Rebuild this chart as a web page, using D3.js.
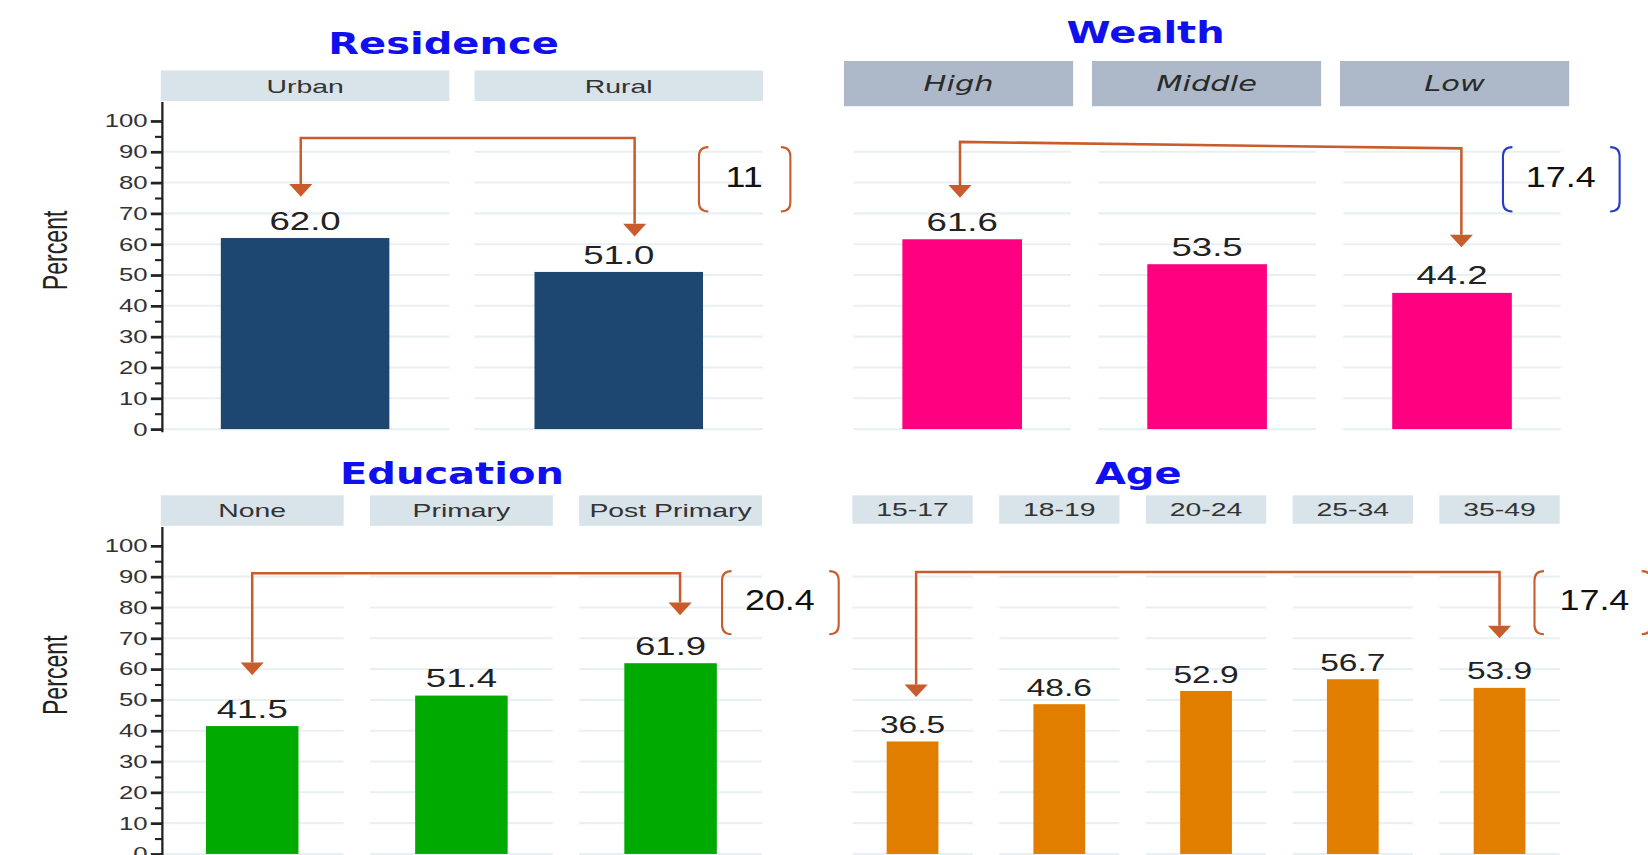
<!DOCTYPE html>
<html>
<head>
<meta charset="utf-8">
<script src="https://cdn.jsdelivr.net/npm/d3@7"></script>
<style>
  body { margin: 0; background: #fff; overflow: hidden; }
  svg { display: block; }
</style>
</head>
<body>
<svg id="chart"></svg>
<script>
// values
const residenceCats = ["Urban", "Rural"];
const residenceVals = [62.0, 51.0];

const wealthCats = ["High", "Middle", "Low"];
const wealthVals = [61.6, 53.5, 44.2];

const educationCats = ["None", "Primary", "Post Primary"];
const educationVals = [41.5, 51.4, 61.9];

const ageCats = ["15-17", "18-19", "20-24", "25-34", "35-49"];
const ageVals = [36.5, 48.6, 52.9, 56.7, 53.9];

// gap between the two arrowed groups, as printed in the brackets
const gapLabels = ["11", "17.4", "20.4", "17.4"];

const majorTicks = d3.range(0, 101, 10);
const minorTicks = d3.range(5, 100, 10);
const gridTicks = d3.range(0, 91, 10);

const sans = "'Liberation Sans', Arial, sans-serif";
const titleFont = "'DejaVu Sans', Verdana, sans-serif";
const arrowColor = "#c85c2c";

// the picture was measured in a 1568x813 frame; the viewBox stretches it to the window
const W = 1568, H = 813;
const svg = d3.select("#chart")
    .attr("width", 1648)
    .attr("height", 855)
    .attr("viewBox", `0 0 ${W} ${H}`)
    .attr("preserveAspectRatio", "none");

// layout of every facet group (positions only, values come from the arrays above)
const panels = [
    {
        title: "Residence", titleX: 422, titleY: 51,
        cats: residenceCats, vals: residenceVals, color: "#1d4670",
        x0: 153, x1: 726, pad: 0.08, barFrac: 0.584, base: 408,
        strip: {x0: 153, x1: 726, pad: 0.08, y: 67, h: 29, fill: "#d8e3ea", italic: false},
        axis: true, valueSize: 24,
        arrow: {from: "Urban", to: "Rural", dxL: -0.015, dxR: 0.055, topL: 94.5, topR: 94.5, tipL: 75.4, tipR: 62.5},
        bracket: {xl: 665, xr: 752, top: 91.5, bot: 70.6, color: arrowColor, textX: 708, label: gapLabels[0]}
    },
    {
        title: "Wealth", titleX: 1090, titleY: 41,
        cats: wealthCats, vals: wealthVals, color: "#fe0080",
        x0: 812, x1: 1485, pad: 0.112, barFrac: 0.55, base: 408,
        strip: {x0: 803, x1: 1493, pad: 0.076, y: 58, h: 43, fill: "#adb8c9", italic: true},
        axis: false, valueSize: 24,
        arrow: {from: "High", to: "Low", dxL: -0.01, dxR: 0.043, topL: 93.2, topR: 91.1, tipL: 75.1, tipR: 59.0},
        bracket: {xl: 1430, xr: 1541, top: 91.5, bot: 70.6, color: "#2a3cc4", textX: 1485, label: gapLabels[1]}
    },
    {
        title: "Education", titleX: 430, titleY: 460,
        cats: educationCats, vals: educationVals, color: "#00aa00",
        x0: 153, x1: 725, pad: 0.126, barFrac: 0.506, base: 812,
        strip: {x0: 153, x1: 725, pad: 0.126, y: 471, h: 29, fill: "#d8e3ea", italic: false},
        axis: true, valueSize: 24,
        arrow: {from: "None", to: "Post Primary", dxL: 0, dxR: 0.052, topL: 91.1, topR: 91.1, tipL: 58.0, tipR: 77.5},
        bracket: {xl: 687, xr: 798, top: 91.8, bot: 71.3, color: arrowColor, textX: 742, label: gapLabels[2]}
    },
    {
        title: "Age", titleX: 1083, titleY: 460,
        cats: ageCats, vals: ageVals, color: "#e17e00",
        x0: 811, x1: 1484, pad: 0.18, barFrac: 0.43, base: 812,
        strip: {x0: 811, x1: 1484, pad: 0.18, y: 471, h: 27, fill: "#d8e3ea", italic: false},
        axis: false, valueSize: 22,
        arrow: {from: "15-17", to: "35-49", dxL: 0.03, dxR: 0, topL: 91.5, topR: 91.5, tipL: 50.9, tipR: 70.0},
        bracket: {xl: 1460, xr: 1571, top: 91.8, bot: 71.3, color: arrowColor, textX: 1517, label: gapLabels[3]}
    }
];

// text squeezed into the stretched look of the original
function stretchText(g, x, y, txt, o) {
    return g.append("text")
        .attr("transform", `translate(${x},${y}) scale(${o.sx || 1},1)`)
        .attr("text-anchor", o.anchor || "middle")
        .attr("dy", o.dy || 0)
        .style("font-family", o.font || sans)
        .style("font-size", o.size + "px")
        .style("font-weight", o.weight || "normal")
        .style("font-style", o.style || "normal")
        .attr("fill", o.fill || "#222")
        .text(txt);
}

function bracketPath(x, yTop, yBot, dir) {
    const r = 9 * dir;
    return `M${x + r},${yTop} Q${x},${yTop} ${x},${yTop + 9} L${x},${yBot - 9} Q${x},${yBot} ${x + r},${yBot}`;
}

panels.forEach(function (p) {
    const g = svg.append("g");

    const y = d3.scaleLinear().domain([0, 100]).range([p.base, p.base - 293]);
    const x = d3.scaleBand().domain(p.cats).range([p.x0, p.x1]).paddingInner(p.pad).paddingOuter(0);
    const xs = d3.scaleBand().domain(p.cats).range([p.strip.x0, p.strip.x1]).paddingInner(p.strip.pad).paddingOuter(0);

    // title
    stretchText(g, p.titleX, p.titleY, p.title, {
        size: 28, sx: 1.36, font: titleFont, weight: "bold", fill: "#1010ee"
    });

    // facet strips
    g.selectAll("rect.strip").data(p.cats).join("rect")
        .attr("class", "strip")
        .attr("x", d => xs(d))
        .attr("y", p.strip.y)
        .attr("width", xs.bandwidth())
        .attr("height", p.strip.h)
        .attr("fill", p.strip.fill);

    p.cats.forEach(function (c) {
        if (p.strip.italic) {
            stretchText(g, xs(c) + xs.bandwidth() / 2, p.strip.y + p.strip.h / 2, c, {
                size: 20, sx: 1.45, font: titleFont, style: "italic", dy: "0.36em", fill: "#2a2a2a"
            });
        } else {
            stretchText(g, xs(c) + xs.bandwidth() / 2, p.strip.y + p.strip.h / 2, c, {
                size: 18, sx: 1.5, dy: "0.36em", fill: "#333"
            });
        }
    });

    // light grid, one block per facet
    p.cats.forEach(function (c) {
        g.append("g").selectAll("line").data(gridTicks).join("line")
            .attr("x1", x(c)).attr("x2", x(c) + x.bandwidth())
            .attr("y1", d => y(d)).attr("y2", d => y(d))
            .attr("stroke", "#e8f0f3")
            .attr("stroke-width", 2);
    });

    // bars
    const bw = x.bandwidth() * p.barFrac;
    g.selectAll("rect.bar").data(p.vals).join("rect")
        .attr("class", "bar")
        .attr("x", (d, i) => x(p.cats[i]) + (x.bandwidth() - bw) / 2)
        .attr("y", d => y(d))
        .attr("width", bw)
        .attr("height", d => y(0) - y(d))
        .attr("fill", p.color);

    p.vals.forEach(function (v, i) {
        stretchText(g, x(p.cats[i]) + x.bandwidth() / 2, y(v) - 8, v.toFixed(1), {
            size: p.valueSize, sx: 1.45, fill: "#222"
        });
    });

    // y axis on the left facets
    if (p.axis) {
        const axisX = p.x0 + 1.5;
        const ag = g.append("g").attr("transform", `translate(${axisX},0)`);

        ag.append("g")
            .call(d3.axisLeft(y).tickValues(minorTicks).tickSize(7).tickFormat(""))
            .call(a => a.select(".domain").remove())
            .call(a => a.selectAll("line").attr("stroke", "#222").attr("stroke-width", 2));

        const sx = 1.4;
        ag.append("g")
            .call(d3.axisLeft(y).tickValues(majorTicks).tickSize(11).tickPadding(3))
            .call(a => a.select(".domain").remove())
            .call(a => a.selectAll("line").attr("stroke", "#222").attr("stroke-width", 2.6))
            .call(a => a.selectAll("text")
                .attr("x", -14 / sx)
                .attr("transform", `scale(${sx},1)`)
                .attr("fill", "#333")
                .style("font-family", sans)
                .style("font-size", "17.5px"));

        ag.append("line")
            .attr("x1", 0).attr("x2", 0)
            .attr("y1", p.strip.y + p.strip.h + 1)
            .attr("y2", y(0) + 3)
            .attr("stroke", "#222")
            .attr("stroke-width", 2.2);

        g.append("text")
            .attr("transform", `translate(52,${y(58)}) rotate(-90) scale(1,1.5)`)
            .attr("text-anchor", "middle")
            .attr("dy", "0.35em")
            .style("font-family", sans)
            .style("font-size", "22px")
            .attr("fill", "#222")
            .text("Percent");
    }

    // comparison arrow
    const a = p.arrow;
    const xl = x(a.from) + x.bandwidth() * (0.5 + a.dxL);
    const xr = x(a.to) + x.bandwidth() * (0.5 + a.dxR);
    const head = 12, half = 11;

    g.append("path")
        .attr("d", `M${xl},${y(a.tipL) - head} L${xl},${y(a.topL)} L${xr},${y(a.topR)} L${xr},${y(a.tipR) - head}`)
        .attr("fill", "none")
        .attr("stroke", arrowColor)
        .attr("stroke-width", 2.4);

    [[xl, y(a.tipL)], [xr, y(a.tipR)]].forEach(function (t) {
        g.append("path")
            .attr("d", `M${t[0] - half},${t[1] - head} L${t[0] + half},${t[1] - head} L${t[0]},${t[1]} Z`)
            .attr("fill", arrowColor);
    });

    // bracket with the gap
    const b = p.bracket;
    g.append("path")
        .attr("d", bracketPath(b.xl, y(b.top), y(b.bot), 1))
        .attr("fill", "none").attr("stroke", b.color).attr("stroke-width", 2);
    g.append("path")
        .attr("d", bracketPath(b.xr, y(b.top), y(b.bot), -1))
        .attr("fill", "none").attr("stroke", b.color).attr("stroke-width", 2);

    stretchText(g, b.textX, (y(b.top) + y(b.bot)) / 2 - 3, b.label, {
        size: 28, sx: 1.22, dy: "0.36em", fill: "#111"
    });
});
</script>
</body>
</html>
